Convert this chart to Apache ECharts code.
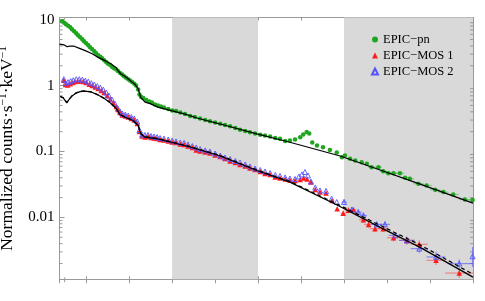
<!DOCTYPE html>
<html><head><meta charset="utf-8">
<script src="https://cdn.jsdelivr.net/npm/echarts@6/dist/echarts.min.js"></script>
<style>html,body{margin:0;padding:0;background:#fff}#c{width:485px;height:301px}</style>
</head><body><div id="c"></div>
<script>
// ---- data (energy in keV, normalized counts s^-1 keV^-1) ----
const pnE = [0.44,0.49,0.53,0.58,0.63,0.67,0.72,0.77,0.81,0.86,0.91,0.95,1.00,1.05,1.09,1.14,1.19,1.23,1.28,1.33,1.37,1.42,1.47,1.51,1.56,1.60,1.65,1.70,1.74,1.79,1.84,1.88,1.93,1.98,2.02,2.07,2.12,2.16,2.21,2.24,2.28,2.33,2.40,2.47,2.53,2.60,2.67,2.74,2.81,2.91,3.00,3.09,3.19,3.30,3.42,3.53,3.65,3.77,3.88,4.00,4.12,4.23,4.35,4.47,4.58,4.70,4.81,4.93,5.05,5.16,5.28,5.40,5.51,5.63,5.74,5.86,5.98,6.05,6.13,6.19,6.26,6.37,6.51,6.67,6.83,6.95,7.02,7.14,7.26,7.41,7.53,7.64,7.80,7.91,8.03,8.15,8.30,8.42,8.53,8.73,8.92,9.12,9.31,9.54,9.81,9.99];
const pnCounts = [9.48,9.0,8.55,8.11,7.69,7.18,6.70,6.24,5.82,5.43,5.07,4.72,4.41,4.11,3.83,3.57,3.33,3.11,2.90,2.75,2.61,2.43,2.27,2.15,2.05,1.94,1.84,1.75,1.66,1.55,1.47,1.39,1.32,1.25,1.19,1.13,1.07,1.00,0.87,0.73,0.67,0.647,0.603,0.573,0.552,0.515,0.498,0.481,0.464,0.441,0.418,0.411,0.390,0.370,0.345,0.333,0.316,0.300,0.288,0.275,0.263,0.252,0.242,0.227,0.213,0.205,0.196,0.187,0.179,0.175,0.169,0.160,0.156,0.144,0.147,0.152,0.165,0.181,0.197,0.187,0.137,0.123,0.116,0.105,0.0966,0.0820,0.0869,0.0774,0.0731,0.0689,0.0651,0.0578,0.0578,0.0503,0.0469,0.0469,0.0469,0.040,0.0385,0.0324,0.0305,0.0263,0.0242,0.0223,0.0187,0.0184];

const mos1E = [0.48,0.52,0.57,0.63,0.69,0.74,0.80,0.86,0.93,1.00,1.07,1.14,1.21,1.28,1.35,1.42,1.49,1.56,1.63,1.70,1.74,1.79,1.84,1.91,1.98,2.05,2.12,2.19,2.24,2.30,2.37,2.44,2.51,2.58,2.65,2.72,2.81,2.91,3.00,3.09,3.19,3.28,3.37,3.47,3.56,3.65,3.77,3.88,4.00,4.12,4.23,4.35,4.47,4.58,4.70,4.81,4.93,5.05,5.16,5.28,5.40,5.51,5.63,5.74,5.86,5.98,6.06,6.14,6.23,6.33,6.44,6.58,6.72,6.84,6.98,7.10,7.22,7.45,7.57,7.72,7.91,8.15,8.46,8.75,9.14,9.68];
const mos1Counts = [1.21,1.04,1.02,1.07,1.11,1.15,1.17,1.17,1.15,1.11,1.05,1.00,0.949,0.901,0.840,0.783,0.705,0.624,0.552,0.481,0.433,0.390,0.357,0.345,0.333,0.316,0.300,0.266,0.201,0.172,0.166,0.169,0.163,0.160,0.157,0.152,0.149,0.144,0.139,0.137,0.130,0.128,0.121,0.115,0.105,0.102,0.0983,0.0948,0.0885,0.0839,0.0783,0.0718,0.0681,0.0635,0.0603,0.0562,0.0533,0.0498,0.0464,0.0449,0.0411,0.0397,0.0383,0.0370,0.0364,0.0377,0.0397,0.0383,0.0345,0.0266,0.0243,0.0235,0.0181,0.0135,0.0116,0.0128,0.0131,0.00923,0.00783,0.00674,0.00674,0.00492,0.00448,0.00390,0.00223,0.00143];

const mos2E = [0.48,0.52,0.58,0.64,0.70,0.77,0.84,0.91,0.98,1.05,1.12,1.19,1.26,1.33,1.40,1.47,1.53,1.60,1.67,1.74,1.79,1.84,1.91,1.98,2.05,2.12,2.19,2.24,2.30,2.37,2.44,2.51,2.58,2.65,2.72,2.81,2.91,3.00,3.09,3.19,3.28,3.37,3.47,3.56,3.65,3.77,3.88,4.00,4.12,4.23,4.35,4.47,4.58,4.70,4.81,4.93,5.05,5.16,5.28,5.40,5.51,5.63,5.74,5.86,5.95,6.02,6.09,6.16,6.23,6.33,6.44,6.58,6.71,6.83,7.00,7.18,7.33,7.45,7.76,7.95,8.19,8.46,8.75,9.14,9.68,9.99];
const mos2Counts = [1.25,1.09,1.13,1.17,1.21,1.25,1.25,1.23,1.19,1.15,1.09,1.04,0.983,0.933,0.869,0.783,0.705,0.614,0.533,0.449,0.404,0.377,0.364,0.351,0.333,0.316,0.285,0.212,0.181,0.178,0.178,0.172,0.169,0.166,0.160,0.157,0.152,0.147,0.142,0.137,0.135,0.128,0.121,0.115,0.109,0.104,0.100,0.0933,0.0869,0.0811,0.0769,0.0718,0.0681,0.0635,0.0593,0.0552,0.0525,0.0498,0.0472,0.0441,0.0426,0.0404,0.0390,0.0383,0.0418,0.0449,0.0489,0.0433,0.0351,0.0285,0.0256,0.0252,0.0192,0.0171,0.0171,0.0131,0.0120,0.0107,0.00783,0.00783,0.00533,0.00448,0.00336,0.00251,0.00199,0.00257];

// model curves
const pnModelE = [0.38,0.49,0.56,0.63,0.72,0.86,0.98,1.14,1.28,1.44,1.58,1.70,1.74,1.81,1.91,1.98,2.07,2.14,2.21,2.27,2.37,2.49,2.67,2.98,3.30,3.60,4.12,4.97,5.74,6.91,7.84,8.77,10.0];
const pnModel = [4.26,4.14,3.90,3.99,3.96,3.64,3.39,3.05,2.68,2.39,2.13,1.87,1.69,1.50,1.37,1.26,1.13,1.04,0.89,0.665,0.562,0.533,0.472,0.418,0.370,0.320,0.261,0.185,0.138,0.0855,0.0525,0.0320,0.0165];
const mosModelE = [0.40,0.47,0.55,0.60,0.67,0.77,0.86,0.98,1.12,1.28,1.44,1.58,1.70,1.78,1.90,2.09,2.21,2.27,2.37,2.67,2.98,3.44,4.12,4.97,5.74,6.86,7.84,8.77,10.0];
const mos1Model = [0.681,0.647,0.547,0.614,0.693,0.770,0.811,0.826,0.798,0.718,0.624,0.533,0.449,0.364,0.331,0.295,0.248,0.185,0.165,0.155,0.138,0.116,0.0855,0.0515,0.0343,0.0152,0.00705,0.00351,0.00124];
const mos2Model = [0.69,0.655,0.555,0.622,0.70,0.78,0.82,0.835,0.805,0.725,0.63,0.54,0.455,0.368,0.335,0.298,0.25,0.187,0.167,0.157,0.14,0.118,0.087,0.0525,0.0351,0.0157,0.00757,0.00383,0.00137];

// error bars: [E, value, dE low, dE high, value low, value high]
const pnErr = [[7.64,0.0578,0.08,0.08,0.055,0.061],[7.80,0.0578,0.08,0.08,0.055,0.061],[7.91,0.0503,0.08,0.08,0.048,0.053],[8.03,0.0469,0.08,0.08,0.0445,0.0495],[8.15,0.0469,0.08,0.08,0.0445,0.0495],[8.30,0.0469,0.1,0.1,0.0445,0.0495],[8.42,0.040,0.1,0.1,0.038,0.042],[8.53,0.0385,0.1,0.1,0.0365,0.0405],[8.73,0.0324,0.12,0.12,0.0306,0.0342],[8.92,0.0305,0.12,0.12,0.0288,0.0322],[9.12,0.0263,0.12,0.12,0.0248,0.0278],[9.31,0.0242,0.12,0.12,0.0228,0.0256],[9.54,0.0223,0.13,0.13,0.021,0.0236],[9.81,0.0187,0.13,0.13,0.0176,0.0198],[9.99,0.0184,0.1,0.01,0.0173,0.0195]];
const mos1Err = [[6.98,0.0116,0.06,0.06,0.0105,0.0128],[7.10,0.0128,0.06,0.06,0.0116,0.0141],[7.22,0.0131,0.06,0.06,0.0119,0.0144],[7.45,0.00923,0.1,0.1,0.0083,0.0102],[7.57,0.00783,0.1,0.1,0.0070,0.0087],[7.72,0.00674,0.12,0.12,0.0060,0.0075],[7.91,0.00674,0.12,0.12,0.0060,0.0075],[8.15,0.00492,0.15,0.15,0.0043,0.0056],[8.46,0.00448,0.18,0.18,0.0039,0.0051],[8.75,0.00390,0.2,0.2,0.0034,0.0045],[9.14,0.00223,0.22,0.22,0.0019,0.0026],[9.68,0.00143,0.33,0.32,0.0012,0.0017]];
const mos2Err = [[7.00,0.0171,0.06,0.06,0.0155,0.0188],[7.18,0.0131,0.08,0.08,0.0118,0.0145],[7.33,0.0120,0.08,0.08,0.0108,0.0133],[7.45,0.0107,0.08,0.08,0.0096,0.0119],[7.76,0.00783,0.12,0.12,0.0070,0.0088],[7.95,0.00783,0.12,0.12,0.0070,0.0088],[8.19,0.00533,0.15,0.15,0.0047,0.0060],[8.46,0.00448,0.18,0.18,0.0039,0.0051],[8.75,0.00336,0.2,0.2,0.0029,0.0039],[9.14,0.00251,0.22,0.22,0.0021,0.0030],[9.68,0.00199,0.27,0.31,0.0017,0.0023],[9.99,0.00257,0.0,0.01,0.00177,0.00355]];

// shaded energy bands (keV)
const bands = [[3, 5], [7, 10]];
// axis ticks / labels
const yTickValues = [0.01, 0.1, 1, 10];
const yTickLabels = ['0.01', '0.1', '1', '10'];
const yMinorTicks = [0.002,0.003,0.004,0.005,0.006,0.007,0.008,0.009,0.02,0.03,0.04,0.05,0.06,0.07,0.08,0.09,0.2,0.3,0.4,0.5,0.6,0.7,0.8,0.9,2,3,4,5,6,7,8,9];
const xMinorTicks = [0.5];
const xRange = [0.38, 10];
const yRange = [0.00115, 10.8];
const seriesNames = ['EPIC\u2212pn', 'EPIC\u2212MOS 1', 'EPIC\u2212MOS 2'];

// ---- chart ----
const SERIF = '"Liberation Serif","DejaVu Serif",serif';
const AX = '#999';
const zip = (a, b) => a.map((v, i) => [v, b[i]]);

function errSeries(data, color) {
  return {
    type: 'custom', data: data, z: 3, silent: true,
    renderItem: function (params, api) {
      const e = api.value(0), v = api.value(1);
      const p0 = api.coord([e - api.value(2), v]);
      const p1 = api.coord([e + api.value(3), v]);
      const q0 = api.coord([e, api.value(4)]);
      const q1 = api.coord([e, api.value(5)]);
      const st = { stroke: color, lineWidth: 1.2 };
      return { type: 'group', children: [
        { type: 'line', shape: { x1: p0[0], y1: p0[1], x2: p1[0], y2: p1[1] }, style: st },
        { type: 'line', shape: { x1: q0[0], y1: q0[1], x2: q1[0], y2: q1[1] }, style: st }
      ]};
    }
  };
}

const chart = echarts.init(document.getElementById('c'), null, { renderer: 'canvas' });
const axisCommon = { axisLabel: { show: false }, splitLine: { show: false } };
chart.setOption({
  animation: false,
  backgroundColor: '#fff',
  grid: { left: 59.5, right: 12, top: 17.5, bottom: 21.7, containLabel: false, outerBoundsMode: 'none' },
  legend: {
    data: seriesNames, orient: 'vertical', left: 366, top: 28,
    itemWidth: 6, itemHeight: 6, itemGap: 3,
    textStyle: { fontFamily: SERIF, fontSize: 12.5, color: '#000', lineHeight: 13 }
  },
  xAxis: [
    Object.assign({ type: 'value', min: xRange[0], max: xRange[1], splitNumber: 10, position: 'bottom',
      axisLine: { show: true, lineStyle: { color: AX } },
      axisTick: { show: true, inside: false, length: 4, lineStyle: { color: AX } } }, axisCommon),
    Object.assign({ type: 'value', min: xRange[0], max: xRange[1], splitNumber: 10, position: 'bottom',
      axisLine: { show: false },
      axisTick: { show: true, inside: true, length: 3, lineStyle: { color: AX } } }, axisCommon),
    Object.assign({ type: 'value', min: xRange[0], max: xRange[1], splitNumber: 10, position: 'top',
      axisLine: { show: true, lineStyle: { color: AX } },
      axisTick: { show: true, inside: true, length: 3, lineStyle: { color: AX } } }, axisCommon)
  ],
  yAxis: [
    { type: 'log', min: yRange[0], max: yRange[1], position: 'left',
      axisLine: { show: true, lineStyle: { color: AX } },
      axisTick: { show: true, inside: true, length: 5, lineStyle: { color: AX } },
      splitLine: { show: false },
      axisLabel: { margin: 5, fontFamily: SERIF, fontSize: 15, color: '#000',
        formatter: function (v) {
          for (let i = 0; i < yTickValues.length; i++) {
            if (Math.abs(Math.log10(v) - Math.log10(yTickValues[i])) < 1e-6) return yTickLabels[i];
          }
          return '';
        } },
      name: 'Normalized counts\u00b7s{sup|\u22121}\u00b7keV{sup|\u22121}',
      nameLocation: 'middle', nameGap: 27, nameRotate: 90,
      nameTextStyle: { fontFamily: SERIF, fontSize: 17.5, color: '#000', lineHeight: 20,
        rich: { sup: { fontFamily: SERIF, fontSize: 11.5, color: '#000', verticalAlign: 'top', lineHeight: 20 } } }
    },
    { type: 'log', min: yRange[0], max: yRange[1], position: 'right',
      axisLine: { show: true, lineStyle: { color: AX } },
      axisTick: { show: true, inside: true, length: 5, lineStyle: { color: AX } },
      splitLine: { show: false }, axisLabel: { show: false } }
  ],
  series: [
    { type: 'line', data: [], z: 0, silent: true,
      markArea: { silent: true, itemStyle: { color: '#d9d9d9' },
        data: bands.map(b => [{ xAxis: b[0] }, { xAxis: b[1] }]) } },
    { type: 'custom', z: 1, silent: true, clip: false, data: yMinorTicks.map(v => [xRange[0], v]),
      renderItem: function (params, api) {
        const cs = params.coordSys;
        const y = api.coord([xRange[0], api.value(1)])[1];
        const st = { stroke: AX, lineWidth: 1 };
        return { type: 'group', children: [
          { type: 'line', shape: { x1: cs.x, y1: y, x2: cs.x + 3, y2: y }, style: st },
          { type: 'line', shape: { x1: cs.x + cs.width, y1: y, x2: cs.x + cs.width - 3, y2: y }, style: st }
        ]};
      } },
    { type: 'custom', z: 1, silent: true, clip: false, data: xMinorTicks.map(v => [v, 1]),
      renderItem: function (params, api) {
        const cs = params.coordSys;
        const x = api.coord([api.value(0), 1])[0];
        const st = { stroke: AX, lineWidth: 1 };
        return { type: 'group', children: [
          { type: 'line', shape: { x1: x, y1: cs.y + cs.height - 2, x2: x, y2: cs.y + cs.height + 3 }, style: st },
          { type: 'line', shape: { x1: x, y1: cs.y, x2: x, y2: cs.y + 2 }, style: st }
        ]};
      } },
    errSeries(pnErr, 'rgba(60,180,60,0.55)'),
    errSeries(mos1Err, 'rgba(255,60,60,0.55)'),
    errSeries(mos2Err, 'rgba(80,80,255,0.6)'),
    { name: seriesNames[0], type: 'scatter', z: 4, data: zip(pnE, pnCounts),
      symbol: 'circle', symbolSize: 4.5, itemStyle: { color: '#1fa51f', opacity: 1 } },
    { name: seriesNames[1], type: 'scatter', z: 4, data: zip(mos1E, mos1Counts),
      symbol: 'triangle', symbolSize: 5.5, itemStyle: { color: '#ff1a1a', opacity: 1 } },
    { name: seriesNames[2], type: 'scatter', z: 5, data: zip(mos2E, mos2Counts),
      symbol: 'triangle', symbolSize: 5,
      itemStyle: { color: 'rgba(0,0,0,0)', borderColor: '#5555ff', borderWidth: 0.9, opacity: 1 } },
    { type: 'line', z: 6, silent: true, data: zip(pnModelE, pnModel), symbol: 'none',
      lineStyle: { color: '#000', width: 1.2 } },
    { type: 'line', z: 6, silent: true, data: zip(mosModelE, mos1Model), symbol: 'none',
      lineStyle: { color: '#000', width: 1.2 } },
    { type: 'line', z: 6, silent: true, data: zip(mosModelE, mos2Model), symbol: 'none',
      lineStyle: { color: '#000', width: 1.2, type: [4, 3] } }
  ]
});
</script>
</body></html>
